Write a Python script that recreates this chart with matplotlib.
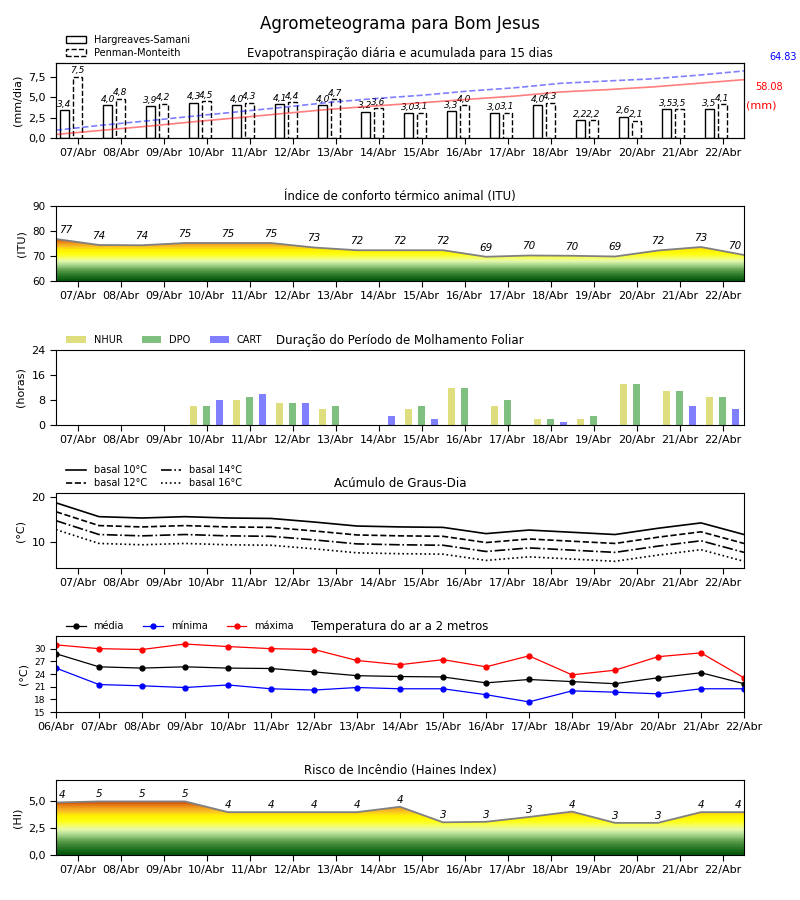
import numpy as np
import matplotlib
matplotlib.use("Agg")
import matplotlib.pyplot as plt
from matplotlib.colors import LinearSegmentedColormap
from matplotlib.patches import Polygon, Patch
from matplotlib.ticker import FuncFormatter

# ---- dados ----
dias = ['07/Abr', '08/Abr', '09/Abr', '10/Abr', '11/Abr', '12/Abr', '13/Abr', '14/Abr',
        '15/Abr', '16/Abr', '17/Abr', '18/Abr', '19/Abr', '20/Abr', '21/Abr', '22/Abr']
dias_temp = ['06/Abr'] + dias

# evapotranspiracao (mm/dia)
et_hs = [3.4, 4.0, 3.9, 4.3, 4.0, 4.1, 4.0, 3.2, 3.0, 3.3, 3.0, 4.0, 2.2, 2.6, 3.5, 3.5]
et_pm = [7.5, 4.8, 4.2, 4.5, 4.3, 4.4, 4.7, 3.6, 3.1, 4.0, 3.1, 4.3, 2.2, 2.1, 3.5, 4.1]
total_hs = '58.08'
total_pm = '64.83'

# indice de conforto termico
itu = [76.8, 74.4, 74.3, 75.2, 75.2, 75.2, 73.4, 72.3, 72.3, 72.3, 69.7, 70.2, 70.1, 69.8, 72.2, 73.6, 70.4]
itu_rot = [77, 74, 74, 75, 75, 75, 73, 72, 72, 72, 69, 70, 70, 69, 72, 73, 70]

# molhamento foliar (horas)
nhur = [0, 0, 0, 6, 8, 7, 5, 0, 5, 12, 6, 2, 2, 13, 11, 9]
dpo = [0, 0, 0, 6, 9, 7, 6, 0, 6, 12, 8, 2, 3, 13, 11, 9]
cart = [0, 0, 0, 8, 10, 7, 0, 3, 2, 0, 0, 1, 0, 0, 6, 5]

# graus-dia
gd10 = [18.8, 15.7, 15.4, 15.7, 15.4, 15.3, 14.5, 13.6, 13.4, 13.3, 11.9, 12.7, 12.2, 11.7, 13.1, 14.3, 11.7]
gd12 = [16.8, 13.7, 13.4, 13.7, 13.4, 13.3, 12.5, 11.6, 11.4, 11.3, 9.9, 10.7, 10.2, 9.7, 11.1, 12.3, 9.7]
gd14 = [14.8, 11.7, 11.4, 11.7, 11.4, 11.3, 10.5, 9.6, 9.4, 9.3, 7.9, 8.7, 8.2, 7.7, 9.1, 10.3, 7.7]
gd16 = [12.8, 9.7, 9.4, 9.7, 9.4, 9.3, 8.5, 7.6, 7.4, 7.3, 5.9, 6.7, 6.2, 5.7, 7.1, 8.3, 5.7]

# temperatura do ar
t_med = [28.8, 25.7, 25.4, 25.7, 25.4, 25.3, 24.5, 23.6, 23.4, 23.3, 21.9, 22.7, 22.2, 21.7, 23.1, 24.3, 21.7]
t_min = [25.4, 21.5, 21.2, 20.8, 21.4, 20.5, 20.2, 20.8, 20.5, 20.5, 19.1, 17.4, 20.0, 19.7, 19.3, 20.5, 20.5]
t_max = [30.9, 30.0, 29.8, 31.1, 30.5, 30.0, 29.8, 27.2, 26.2, 27.4, 25.7, 28.3, 23.8, 24.9, 28.1, 29.0, 23.1]

# haines
haines = [4.9, 5.0, 5.0, 5.0, 4.0, 4.0, 4.0, 4.0, 4.5, 3.05, 3.1, 3.55, 4.05, 3.0, 3.0, 4.0, 4.0]
haines_rot = [4, 5, 5, 5, 4, 4, 4, 4, 4, 3, 3, 3, 4, 3, 3, 4, 4]

# ---- figura ----
fig = plt.figure(figsize=(8, 9), dpi=100)
fig.suptitle('Agrometeograma para Bom Jesus', fontsize=12, y=0.983)

virgula = FuncFormatter(lambda v, p: ('%.1f' % v).replace('.', ','))
x = np.arange(len(dias))
x17 = np.arange(17) - 0.5

cmap = LinearSegmentedColormap.from_list('risco', [
    (0.00, '#06580a'), (0.12, '#2c7a2a'), (0.24, '#5ea04c'), (0.35, '#a9d98e'),
    (0.44, '#e6f8b0'), (0.52, '#f6ff60'), (0.60, '#ffff10'), (0.70, '#fff000'),
    (0.76, '#fcc824'), (0.84, '#f0a020'), (0.91, '#e07010'), (0.96, '#d04000'),
    (1.00, '#c00000')], N=28)


def painel(bottom_px, top_px):
    ax = fig.add_axes([56 / 800, 1 - bottom_px / 900, 688 / 800, (bottom_px - top_px) / 900])
    ax.tick_params(labelsize=8, length=4)
    return ax


def eixo_dias(ax):
    ax.set_xticks(x)
    ax.set_xticklabels(dias, fontsize=8)
    ax.set_xlim(-0.5, 15.5)


def degrade(ax, yv, y0, vmin, vmax):
    verts = np.vstack([[x17[0], y0], np.column_stack([x17, yv]), [x17[-1], y0]])
    patch = Polygon(verts, closed=True, facecolor='none', edgecolor='none')
    ax.add_patch(patch)
    grad = np.linspace(0, 1, 256).reshape(-1, 1)
    im = ax.imshow(grad, cmap=cmap, origin='lower', aspect='auto',
                   extent=[x17[0], x17[-1], vmin, vmax])
    im.set_clip_path(patch)
    ax.plot(x17, yv, color='#808080', lw=1.3)


def rotulos(ax, yv, rot, dy):
    n = len(rot)
    for i in range(n):
        ha, dx = 'center', 0
        if i == 0:
            ha, dx = 'left', 2
        elif i == n - 1:
            ha, dx = 'right', -2
        ax.annotate(str(rot[i]), (x17[i], yv[i]), xytext=(dx, dy), textcoords='offset points',
                    ha=ha, va='bottom', fontsize=7.5, style='italic')


# 1 - evapotranspiracao
ax1 = painel(138, 63)
ax1.bar(x - 0.3, et_hs, 0.2, facecolor='white', edgecolor='k', lw=1)
ax1.bar(x, et_pm, 0.2, facecolor='white', edgecolor='k', lw=1, linestyle='--')
for i in range(len(dias)):
    ax1.annotate(('%.1f' % et_hs[i]).replace('.', ','), (x[i] - 0.3, et_hs[i]), xytext=(0, 1),
                 textcoords='offset points', ha='center', va='bottom', fontsize=6.5, style='italic')
    ax1.annotate(('%.1f' % et_pm[i]).replace('.', ','), (x[i], et_pm[i]), xytext=(0, 1),
                 textcoords='offset points', ha='center', va='bottom', fontsize=6.5, style='italic')
eixo_dias(ax1)
ax1.set_ylim(0, 9.15)
ax1.set_yticks([0, 2.5, 5, 7.5])
ax1.yaxis.set_major_formatter(virgula)
ax1.set_ylabel('(mm/dia)', fontsize=8)
ax1.set_title('Evapotranspiração diária e acumulada para 15 dias', fontsize=8.5, pad=4)
ax1.legend(handles=[Patch(facecolor='white', edgecolor='k', label='Hargreaves-Samani'),
                    Patch(facecolor='white', edgecolor='k', linestyle='--', label='Penman-Monteith')],
           loc='lower left', bbox_to_anchor=(0.008, 1), frameon=False, fontsize=7,
           borderaxespad=0.1, labelspacing=0.3)
tw = ax1.twinx()
xc = np.linspace(-0.5, 15.5, len(dias))
tw.plot(xc, np.cumsum(et_pm), '--', color='b', alpha=0.5, lw=1.2)
tw.plot(xc, np.cumsum(et_hs), '-', color='r', alpha=0.5, lw=1.2)
tw.set_ylim(0, 72)
tw.set_yticks([])
tw.set_xlim(-0.5, 15.5)
ax1.text(1.057, 1.08, total_pm, transform=ax1.transAxes, color='b', fontsize=7, ha='center', va='center')
ax1.text(1.036, 0.68, total_hs, transform=ax1.transAxes, color='r', fontsize=7, ha='center', va='center')
ax1.text(1.025, 0.44, '(mm)', transform=ax1.transAxes, color='r', fontsize=8, ha='center', va='center')

# 2 - ITU
ax2 = painel(281, 206)
degrade(ax2, itu, 60, 60, 78)
rotulos(ax2, itu, itu_rot, 3)
eixo_dias(ax2)
ax2.set_ylim(60, 90)
ax2.set_yticks([60, 70, 80, 90])
ax2.tick_params(axis='y', labelsize=7.5)
ax2.set_ylabel('(ITU)', fontsize=8)
ax2.set_title('Índice de conforto térmico animal (ITU)', fontsize=8.5, pad=4)

# 3 - molhamento foliar
ax3 = painel(425, 350)
ax3.bar(x - 0.3, nhur, 0.15, color='y', alpha=0.5, label='NHUR')
ax3.bar(x, dpo, 0.15, color='g', alpha=0.5, label='DPO')
ax3.bar(x + 0.3, cart, 0.15, color='b', alpha=0.5, label='CART')
eixo_dias(ax3)
ax3.set_ylim(0, 24)
ax3.set_yticks([0, 8, 16, 24])
ax3.set_ylabel('(horas)', fontsize=8)
ax3.set_title('Duração do Período de Molhamento Foliar', fontsize=8.5, pad=4)
ax3.legend(loc='lower left', bbox_to_anchor=(0.008, 1), ncol=3, frameon=False, fontsize=7,
           borderaxespad=0.1, columnspacing=2.0)

# 4 - graus-dia
ax4 = painel(568, 493)
ax4.plot(x17, gd10, '-', color='k', lw=1.2, label='basal 10°C')
ax4.plot(x17, gd12, '--', color='k', lw=1.2, label='basal 12°C')
ax4.plot(x17, gd14, '-.', color='k', lw=1.2, label='basal 14°C')
ax4.plot(x17, gd16, ':', color='k', lw=1.2, label='basal 16°C')
eixo_dias(ax4)
ax4.set_ylim(4.2, 21)
ax4.set_yticks([10, 20])
ax4.set_ylabel('(°C)', fontsize=8)
ax4.set_title('Acúmulo de Graus-Dia', fontsize=8.5, pad=4)
ax4.legend(loc='lower left', bbox_to_anchor=(0.008, 1), ncol=2, frameon=False, fontsize=7,
           borderaxespad=0.1, labelspacing=0.3, columnspacing=1.5)

# 5 - temperatura
ax5 = painel(712, 636)
xt = np.arange(len(dias_temp))
ax5.plot(xt, t_med, '-o', color='k', ms=3.5, lw=0.9, label='média')
ax5.plot(xt, t_min, '-o', color='b', ms=3.5, lw=0.9, label='mínima')
ax5.plot(xt, t_max, '-o', color='r', ms=3.5, lw=0.9, label='máxima')
ax5.set_xticks(xt)
ax5.set_xticklabels(dias_temp, fontsize=8)
ax5.set_xlim(0, 16)
ax5.set_ylim(15, 33)
ax5.set_yticks([15, 18, 21, 24, 27, 30])
ax5.tick_params(axis='y', labelsize=6.5)
ax5.set_ylabel('(°C)', fontsize=8)
ax5.set_title('Temperatura do ar a 2 metros', fontsize=8.5, pad=4)
ax5.legend(loc='lower left', bbox_to_anchor=(0.008, 1), ncol=3, frameon=False, fontsize=7,
           borderaxespad=0.1, columnspacing=2.0)

# 6 - haines
ax6 = painel(855, 780)
degrade(ax6, haines, 0, 0, 5.3)
rotulos(ax6, haines, haines_rot, 1.5)
eixo_dias(ax6)
ax6.set_ylim(0, 7)
ax6.set_yticks([0, 2.5, 5])
ax6.yaxis.set_major_formatter(virgula)
ax6.set_ylabel('(HI)', fontsize=8)
ax6.set_title('Risco de Incêndio (Haines Index)', fontsize=8.5, pad=4)

fig.savefig('out.png', dpi=100)
